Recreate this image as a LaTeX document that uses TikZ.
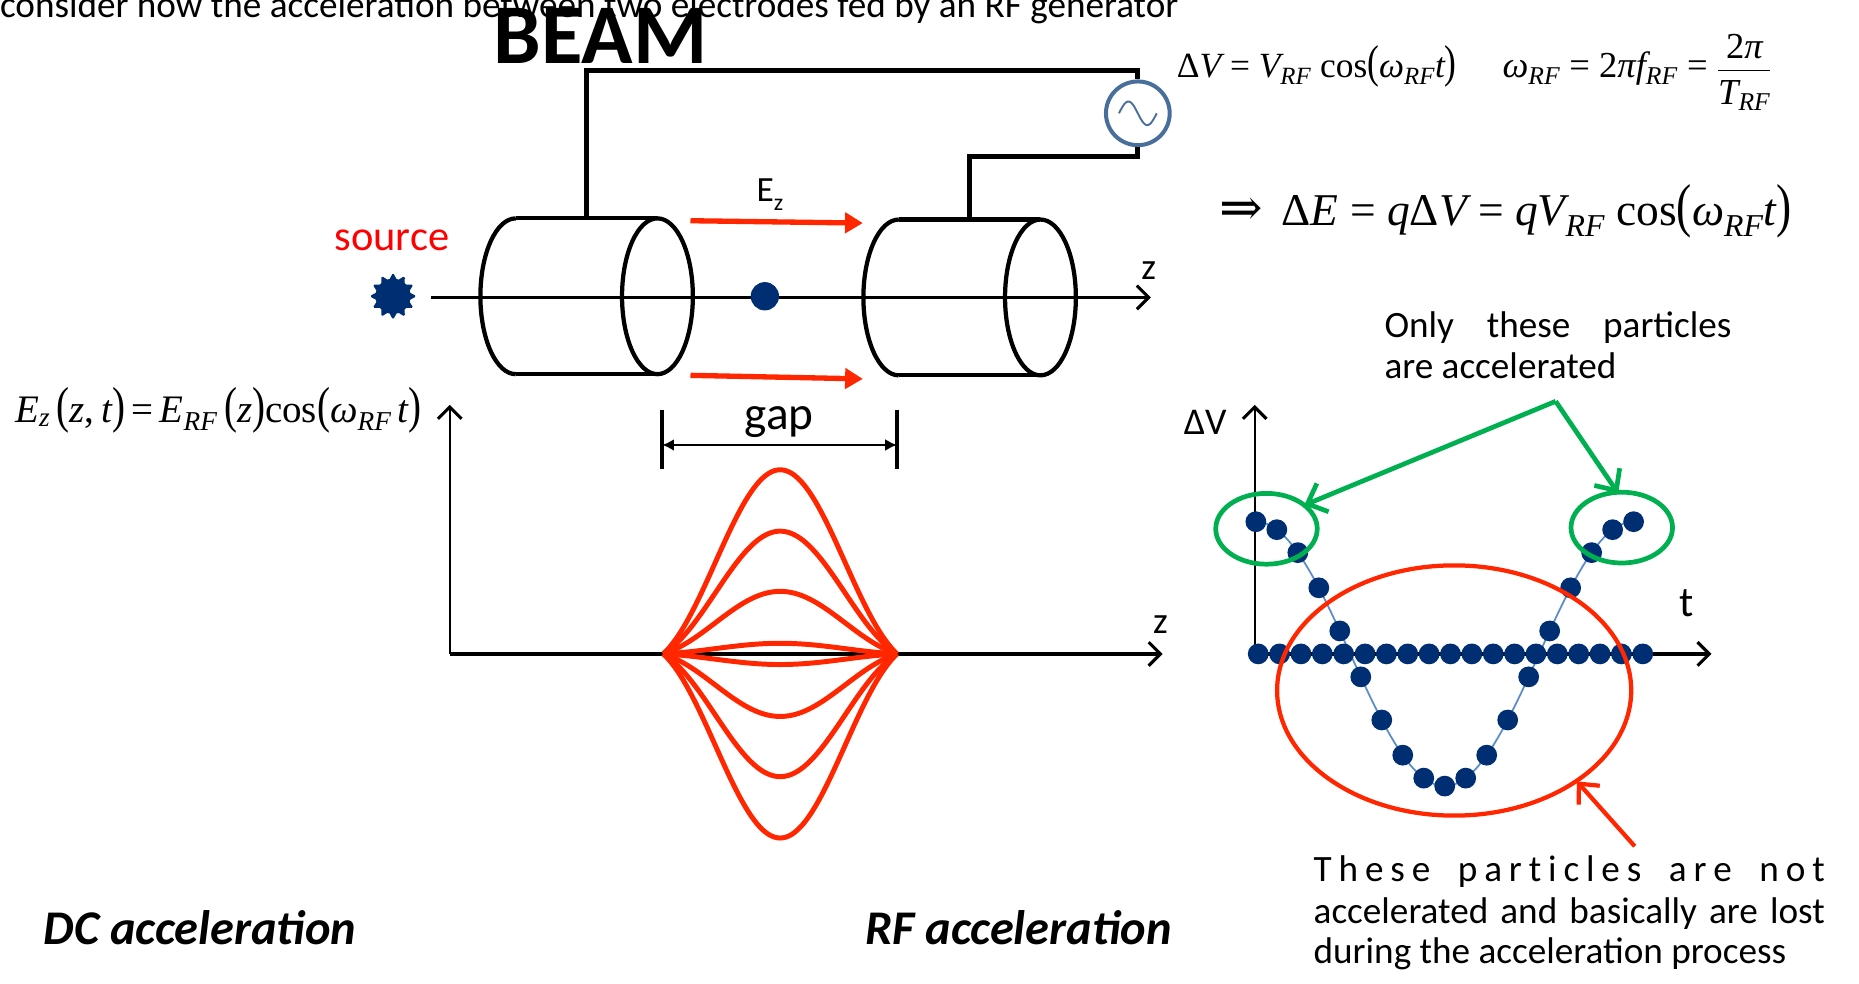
\documentclass[tikz,border=0pt]{standalone}
\usepackage{fontspec}
\usepackage{graphicx}
\setmainfont{Carlito}
\newfontfamily\tms{Liberation Serif}
\newfontfamily\djv{DejaVu Serif}
\usetikzlibrary{arrows.meta,calc,shapes.geometric}
\definecolor{navy}{RGB}{0,46,115}
\definecolor{rfred}{RGB}{255,38,0}
\definecolor{grn}{RGB}{0,176,80}
\definecolor{genblue}{RGB}{72,110,155}
\definecolor{curveblue}{RGB}{91,140,205}
\newcommand\myls{\hspace{0pt plus 1fill}}
\newcommand\myws{\hspace{0pt plus 4fill}}
\newcommand\mi[1]{{\itshape #1}}
\newcommand\tsub[1]{\textsubscript{\itshape #1}}
\newcommand\lpar{\scalebox{1}[1.3]{(}}
\newcommand\rpar{\scalebox{1}[1.3]{)}}
\tikzset{
  lbl/.style={inner sep=0pt, outer sep=0pt, anchor=base west},
  fnorm/.style={font=\fontsize{31.5}{38}\selectfont},
  wire/.style={line width=4.2pt, line join=miter},
  cyl/.style={line width=3.6pt},
  barb/.style={-{Straight Barb[length=10pt,width=20pt,line width=2.6pt]}},
  rfarrow/.style={rfred, line width=4.5pt, -{Triangle[length=15pt,width=17pt]}},
  gapbar/.style={line width=3.6pt},
  redcurve/.style={rfred, line width=4.2pt, line join=round},
  dot/.style={navy},
  cylpic/.pic={
    \draw[cyl] (-60,-66) -- (60,-66) (-60,66) -- (60,66);
    \draw[cyl] (-60,-66) arc[start angle=90,end angle=270,x radius=30pt,y radius=66pt];
    \draw[cyl] (60,0) ellipse[x radius=30pt,y radius=66pt];
  }
}
\begin{document}
\begin{tikzpicture}[x=1pt,y=-1pt]
\useasboundingbox (0,0) rectangle (1575,833);

% ---------- titles ----------
\node[lbl,fnorm] (intro) at (0,15) {consider how the acceleration between two electrodes fed by an RF generator};
\node[lbl,font={\fontsize{72}{80}\selectfont\bfseries}] (beam) at (418,54) {BEAM};

% ---------- electrodes ----------
\pic at (497,251) {cylpic};
\pic at (821.5,252) {cylpic};
\coordinate (ltop) at (497,185);
\coordinate (rtop) at (821.5,186);

% ---------- RF generator ----------
\node[circle, draw=genblue, line width=3.4pt, minimum size=54pt, inner sep=0pt] (gen) at (964,96) {};
\draw[genblue, line width=1.6pt] plot[domain=-16:16, samples=41, smooth] ({964+\x},{96-10*sin((\x+16)*180/16)});
\draw[wire] (ltop) -- ++(0,-125) -| (gen.north);
\draw[wire] (gen.south) -- ++(0,8) -| (rtop);

% ---------- beam axis ----------
\node[star, star points=12, star point ratio=1.45, fill=navy, minimum size=40pt, inner sep=0pt, rounded corners=1.5pt] (src) at (333,251) {};
\coordinate (zend) at (975,252);
\draw[line width=2pt, barb] ($(src.east)+(12,1)$) -- (zend);
\node[lbl,fnorm] (zlab) at (967,237) {z};
\node[inner sep=0pt, anchor=base, text=red, font=\fontsize{36}{40}\selectfont] (srclab) at (332,212) {source};
\node[circle, fill=navy, minimum size=24pt, inner sep=0pt] (part) at (648,251) {};

% field arrows
\coordinate (eu1) at (585,187); \coordinate (eu2) at (731,189);
\coordinate (ed1) at (585,318); \coordinate (ed2) at (731,321);
\draw[rfarrow] (eu1) -- (eu2);
\draw[rfarrow] (ed1) -- (ed2);
\node[lbl,font=\fontsize{30}{36}\selectfont] (ez) at (641,171) {E\raisebox{-7pt}{\fontsize{20}{20}\selectfont z}};

% ---------- left formula ----------
\node[lbl,font=\fontsize{33}{38}\selectfont\tms] (ezform) at (13,358) {\mi{E}\tsub{z}\,\lpar\mi{z},\,\mi{t}\rpar\,=\,\mi{E}\tsub{RF}\,\lpar\mi{z}\rpar cos\lpar\mi{ω}\tsub{RF}\,\mi{t}\rpar};

% ---------- DC plot ----------
\coordinate (o1) at (381,554);
\coordinate (y1) at (381,343);
\coordinate (x1) at (985,554);
\draw[line width=2pt, barb] (o1) -- (y1);
\draw[line width=3pt, barb] (o1) -- (x1);
\node[lbl,fnorm] (zlab2) at (977,537) {z};

% gap
\coordinate (gl1) at (561,347); \coordinate (gl2) at (561,397);
\coordinate (gr1) at (760,347); \coordinate (gr2) at (760,397);
\draw[gapbar] (gl1) -- (gl2);
\draw[gapbar] (gr1) -- (gr2);
\coordinate (gal) at (561,377); \coordinate (gar) at (760,377);
\draw[line width=1.8pt, {Latex[length=10pt,width=10pt]}-{Latex[length=10pt,width=10pt]}] (gal) -- (gar);
\node[inner sep=0pt, anchor=base, font=\fontsize{40}{44}\selectfont] (gap) at (660,364) {gap};

% field profiles
\foreach \A in {156,104,53,9,-9,-53,-104,-156}{
  \draw[redcurve] plot[domain=-1:1, samples=81] ({661+99*(\x)},{554-\A*(0.35*(1+cos(180*(\x)))+0.3*(1-(\x)*(\x)))});
}

% ---------- RF plot ----------
\coordinate (o2) at (1063,554);
\coordinate (y2) at (1063,343);
\coordinate (x2) at (1450,554);
\draw[line width=2pt, barb] (o2) -- (y2);
\draw[line width=3pt, barb] (o2) -- (x2);
\node[lbl,font=\fontsize{32}{38}\selectfont] (dvlab) at (1003,368) {ΔV};
\node[lbl,font=\fontsize{36}{40}\selectfont] (tlab) at (1423,522) {t};

\draw[curveblue, line width=1.5pt] plot[domain=0:18, samples=91, smooth] ({1064+17.78*\x},{554-112*cos(20*\x)});
\foreach \k in {0,...,18}{
  \fill[dot] ({1066+18.1*\k},554) circle[radius=8.8pt];
  \fill[dot] ({1064+17.78*\k},{554-112*cos(20*\k)}) circle[radius=8.8pt];
}

\node[ellipse, draw=grn, line width=4pt, minimum width=86pt, minimum height=60pt, inner sep=0pt] (gel) at (1073,448) {};
\node[ellipse, draw=grn, line width=4pt, minimum width=86pt, minimum height=60pt, inner sep=0pt] (ger) at (1374,447) {};
\node[ellipse, draw=rfred, line width=3.6pt, minimum width=300pt, minimum height=212pt, inner sep=0pt] (rel) at (1232,585) {};

% annotations
\node[lbl,fnorm] (only1) at (1173,286) {\makebox[294pt][s]{Only these particles}};
\node[lbl,fnorm] (only2) at (1173,321) {are accelerated};
\coordinate (gsrc) at (1318,340);
\coordinate (gtl) at (1105,428);
\coordinate (gtr) at (1371,418);
\draw[grn, line width=4pt, -{Straight Barb[length=14pt,width=26pt]}] (gsrc) -- (gtl);
\draw[grn, line width=4pt, -{Straight Barb[length=14pt,width=26pt]}] (gsrc) -- (gtr);

\coordinate (rsrc) at (1385,717);
\coordinate (rtip) at (1336,662);
\draw[rfred, line width=3.6pt, -{Straight Barb[length=13pt,width=24pt]}] (rsrc) -- (rtip);

\node[lbl,fnorm] (lost1) at (1113,747) {\makebox[433pt][l]{T\myls h\myls e\myls s\myls e\myws p\myls a\myls r\myls t\myls i\myls c\myls l\myls e\myls s\myws a\myls r\myls e\myws n\myls o\myls t}};
\node[lbl,fnorm] (lost2) at (1113,782) {\makebox[433pt][s]{accelerated and basically are lost}};
\node[lbl,fnorm] (lost3) at (1113,816) {during the acceleration process};

% ---------- top right formulas ----------
\node[lbl,font=\fontsize{30}{36}\selectfont\tms] (eq1) at (997,66) {Δ\mi{V} = \mi{V}\tsub{RF} cos\lpar\mi{ω}\tsub{RF}\mi{t}\rpar};
\node[lbl,font=\fontsize{31}{36}\selectfont\tms] (eq2) at (1273,66) {\mi{ω}\tsub{RF} = 2\mi{πf}\tsub{RF} = $\displaystyle\frac{\hbox{\rule[-5pt]{0pt}{5pt}\,2\mi{π}\,}}{\hbox{\rule{0pt}{27pt}\mi{T}\tsub{RF}}}$};
\node[lbl,font=\fontsize{38.5}{44}\selectfont\tms] (eq3) at (1033,191) {{\djv\fontsize{44}{44}\selectfont ⇒}\, Δ\mi{E} = \mi{q}Δ\mi{V} = \mi{qV}\tsub{RF} cos\lpar\mi{ω}\tsub{RF}\mi{t}\rpar};

% ---------- captions ----------
\node[lbl,font={\fontsize{41}{46}\selectfont\bfseries\itshape}] (dccap) at (37,800) {DC acceleration};
\node[lbl,font={\fontsize{41}{46}\selectfont\bfseries\itshape}] (rfcap) at (733,800) {RF acceleration};
\end{tikzpicture}
\end{document}
